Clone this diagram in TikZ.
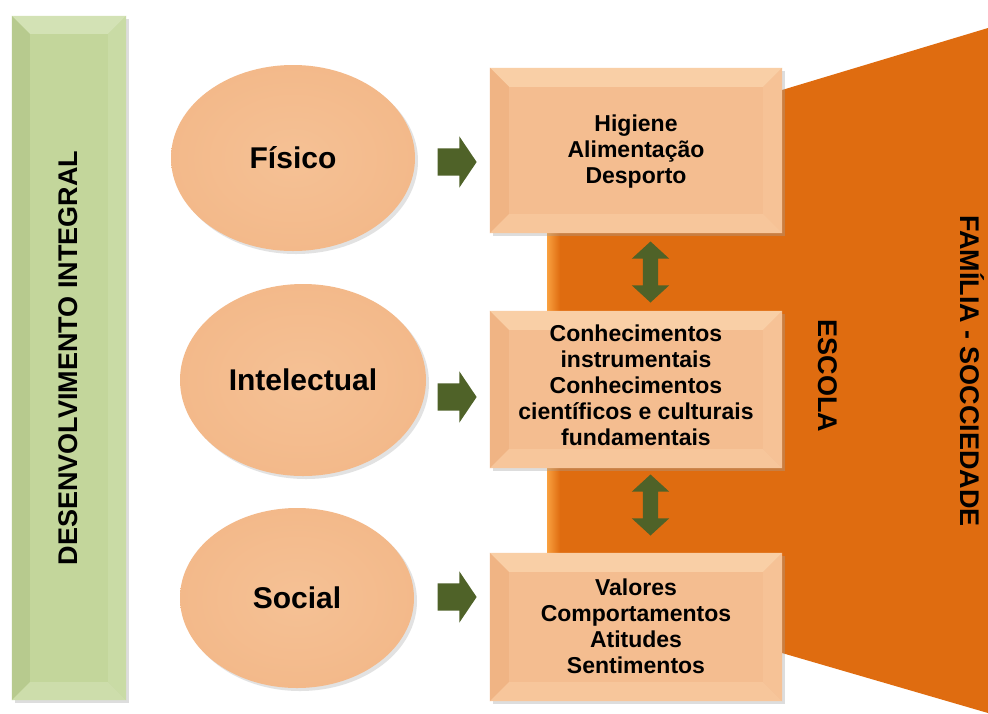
\documentclass[tikz,border=0pt]{standalone}
\usepackage{fontspec}
\setmainfont{Liberation Sans}
\usetikzlibrary{shapes.geometric,shapes.arrows,calc}
\definecolor{peach}{HTML}{F4BD90}
\definecolor{peachlt}{HTML}{F9CFA6}
\definecolor{peachdk}{HTML}{F0B484}
\definecolor{peachrt}{HTML}{F6C296}
\definecolor{ellin}{HTML}{F5C195}
\definecolor{ellout}{HTML}{F3B98A}
\definecolor{barg}{HTML}{C3D69B}
\definecolor{bargl}{HTML}{D3E2B5}
\definecolor{bargd}{HTML}{B7CA8E}
\definecolor{orng}{HTML}{DF6C10}
\definecolor{orngl}{HTML}{F9A03F}
\definecolor{arrg}{HTML}{4F6228}
\definecolor{shad}{HTML}{A0A0A0}
\tikzset{
  pbox/.style={rectangle, fill=peach, minimum width=292, inner sep=0pt},
  ptext/.style={align=center, inner sep=0pt, font=\bfseries\fontsize{23}{26}\selectfont},
  pell/.style={ellipse, inner color=ellin, outer color=ellout, inner sep=0pt,
    font=\bfseries\fontsize{30}{34}\selectfont},
  vtext/.style={font=\bfseries\fontsize{27}{30}\selectfont, inner sep=0pt},
  rarrow/.style={single arrow, fill=arrg, inner sep=13.5pt, minimum height=39,
    single arrow head extend=12pt, single arrow tip angle=112, single arrow head indent=0pt},
  darrow/.style={double arrow, fill=arrg, inner sep=7.5pt, minimum height=61,
    double arrow head extend=11pt, double arrow tip angle=95, double arrow head indent=0pt, rotate=90},
}
\newcommand{\bevelbox}[6]{%
  \fill[#3] (#1.north west) -- (#1.north east) -- ($(#1.north east)+(-#2,#2)$) -- ($(#1.north west)+(#2,#2)$) -- cycle;
  \fill[#4] (#1.north west) -- ($(#1.north west)+(#2,#2)$) -- ($(#1.south west)+(#2,-#2)$) -- (#1.south west) -- cycle;
  \fill[#5] (#1.north east) -- ($(#1.north east)+(-#2,#2)$) -- ($(#1.south east)+(-#2,-#2)$) -- (#1.south east) -- cycle;
  \fill[#6] (#1.south west) -- ($(#1.south west)+(#2,-#2)$) -- ($(#1.south east)+(-#2,-#2)$) -- (#1.south east) -- cycle;
}
\begin{document}
\begin{tikzpicture}[x=1pt,y=-1pt]
\useasboundingbox (0,0) rectangle (988,713);
\fill[white] (0,0) rectangle (988,713);

% orange background
\fill[orng] (547,90) -- (782,90) -- (988,28) -- (988,713) -- (782,653) -- (547,653) -- cycle;
\shade[left color=orngl, right color=orng] (547,200) rectangle (560,600);

% green bar
\fill[shad, opacity=0.35] (15,19) rectangle (129,703);
\node[rectangle, fill=barg, minimum width=114, minimum height=684, inner sep=0pt] (bar) at (69,358) {};
\bevelbox{bar}{18}{bargl}{bargd}{bargl!40!barg}{bargl!60!barg}
\node[vtext, rotate=90] (dev) at (68,358) {DESENVOLVIMENTO INTEGRAL};

% ellipses
\fill[shad, opacity=0.3] (296,161) ellipse (122 and 93);
\node[pell, minimum width=244, minimum height=186] (fis) at (293,158) {Físico};
\fill[shad, opacity=0.3] (306,383) ellipse (123 and 96);
\node[pell, minimum width=246, minimum height=192] (int) at (303,380) {Intelectual};
\fill[shad, opacity=0.3] (300,601) ellipse (117 and 90);
\node[pell, minimum width=234, minimum height=180] (soc) at (297,598) {Social};

% boxes
\fill[shad, opacity=0.35] (493,71) rectangle (785,236);
\node[pbox, minimum height=165] (b1) at (636,150.5) {};
\bevelbox{b1}{19}{peachlt}{peachdk}{peachrt}{peachlt!50!peach}
\node[ptext] (t1) at (636,152) {Higiene\\Alimentação\\Desporto};

\fill[shad, opacity=0.35] (493,314) rectangle (785,471);
\node[pbox, minimum height=157] (b2) at (636,389.5) {};
\bevelbox{b2}{19}{peachlt}{peachdk}{peachrt}{peachlt!50!peach}
\node[ptext] (t2) at (636,385) {Conhecimentos\\instrumentais\\Conhecimentos\\científicos e culturais\\fundamentais};

\fill[shad, opacity=0.35] (493,556) rectangle (785,704);
\node[pbox, minimum height=148] (b3) at (636,627) {};
\bevelbox{b3}{19}{peachlt}{peachdk}{peachrt}{peachlt!50!peach}
\node[ptext] (t3) at (636,626) {Valores\\Comportamentos\\Atitudes\\Sentimentos};

% right arrows
\node[rarrow] (r1) at (452.5,162) {};
\node[rarrow] (r2) at (452.5,397) {};
\node[rarrow] (r3) at (452.5,597) {};

% double arrows
\node[darrow] (d1) at (650.5,272) {};
\node[darrow] (d2) at (650.5,505) {};

% vertical labels
\node[vtext, rotate=-90] (esc) at (828,376) {ESCOLA};
\node[vtext, rotate=-90] (fam) at (972,371) {FAMÍLIA - SOCCIEDADE};
\end{tikzpicture}
\end{document}
